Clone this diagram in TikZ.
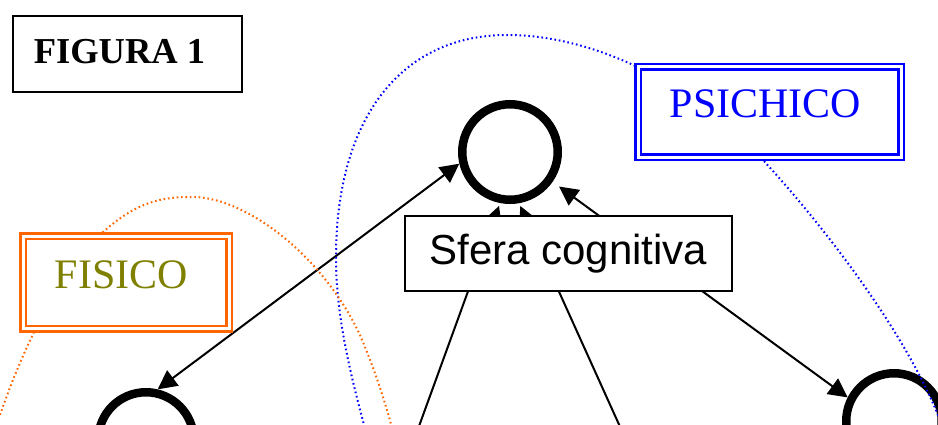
\documentclass[tikz,border=0pt]{standalone}
\usepackage{fontspec}
\setmainfont{Liberation Serif}
\setsansfont{Liberation Sans}
\usetikzlibrary{arrows.meta,calc}
\definecolor{orng}{RGB}{255,102,0}
\definecolor{olv}{RGB}{128,128,0}
\begin{document}
\begin{tikzpicture}[x=1pt,y=-1pt,
  ring/.style={circle, draw, line width=8.5pt, minimum size=95.5pt, inner sep=0pt},
  conn/.style={line width=2pt},
  tip/.tip={Triangle[length=19pt,width=19pt]},
  dotline/.style={line width=2pt, dash pattern=on 1.6pt off 2.8pt},
  dblbox/.style={double=white, double distance=3pt, line width=2.5pt, fill=white, inner sep=0pt},
  label/.style={anchor=base, inner sep=0pt}]
\useasboundingbox (0,0) rectangle (938,424);
\clip (0,0) rectangle (938,424);
\fill[white] (0,0) rectangle (938,424);
% circles
\node[ring] (top) at (510,152) {};
\node[ring] (lft) at (146,440) {};
\node[ring] (rgt) at (894,421) {};
% connectors
\coordinate (b1) at (414,440);
\coordinate (b2) at (626,440);
\draw[conn, tip-tip] (top.193.5) -- (lft.77);
\draw[conn, tip-tip, shorten <=8pt] (top.-35.5) -- (rgt.153);
\draw[conn, tip-, shorten <=3pt] (top.259.5) -- (b1);
\draw[conn, tip-, shorten <=3pt] (top.280.5) -- (b2);
% Sfera cognitiva
\node[draw, fill=white, line width=2pt, minimum width=327pt, minimum height=75pt, inner sep=0pt,
  font=\sffamily\fontsize{42}{42}\selectfont] (sfera) at (568.5,253.5) {Sfera cognitiva};
% dotted curves
\draw[blue, dotline] (368,440) .. controls (352,380) and (336,320) .. (336,257)
  .. controls (336,120) and (400,35) .. (507,35)
  .. controls (600,35) and (700,90) .. (763,160)
  .. controls (820,222) and (905,330) .. (940,420);
\draw[orng, dotline] (-8,440) .. controls (10,380) and (50,280) .. (102,233)
  .. controls (135,203) and (160,197) .. (190,197)
  .. controls (240,195) and (320,250) .. (360,335)
  .. controls (375,370) and (388,410) .. (395,440);
% labelled boxes
\node[dblbox, draw=blue, minimum width=263pt, minimum height=90.5pt] (psi) at (769.5,111.75) {};
\node[label, text=blue, font=\fontsize{42}{42}\selectfont] (psit) at ($(psi.center)+(-4,5.25)$) {PSICHICO};
\node[dblbox, draw=orng, minimum width=206pt, minimum height=92.5pt] (fis) at (126,282.25) {};
\node[label, text=olv, font=\fontsize{42}{42}\selectfont] (fist) at ($(fis.center)+(-4.5,5.75)$) {FISICO};
\node[draw, fill=white, line width=2pt, minimum width=229pt, minimum height=76pt, inner sep=0pt] (fig) at (127.5,54) {};
\node[label, font=\bfseries\fontsize{36.5}{36.5}\selectfont] (figt) at ($(fig.center)+(-8,9)$) {FIGURA 1};
\end{tikzpicture}
\end{document}
